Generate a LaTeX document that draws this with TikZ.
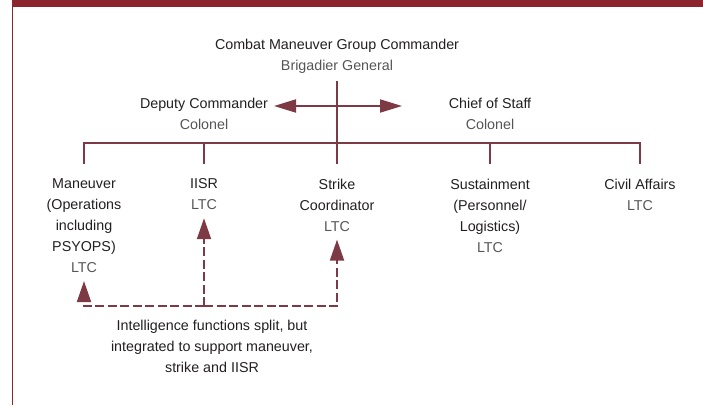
\documentclass[tikz,border=0pt]{standalone}
\usepackage{fontspec}
\setmainfont{Liberation Sans}
\usetikzlibrary{arrows.meta}
\definecolor{barred}{RGB}{140,37,45}
\definecolor{linered}{RGB}{125,58,68}
\definecolor{txt}{RGB}{35,31,32}
\definecolor{rankgray}{RGB}{85,85,85}
\newcommand\rnk[1]{{\color{rankgray}#1}}
\tikzset{
    org/.style={draw=linered,line width=2pt},
    drop/.style={org,shorten >=6.7pt},
    intel/.style={org,dash pattern=on 9pt off 3.5pt,-{Triangle[length=21pt,width=14pt]}},
    post/.style={font=\fontsize{14.3}{21}\selectfont,text=txt,align=center,anchor=north,inner xsep=2pt,inner ysep=8pt}
}
\begin{document}
\begin{tikzpicture}[x=1pt,y=-1pt]
            \useasboundingbox (0,0) rectangle (703,405);
            \fill[barred] (12,0) rectangle (703,7.3);
            \draw[barred,line width=1.3pt] (12.3,0) -- (12.3,405);
            \node[post] (cmd) at (337,30.7) {Combat Maneuver Group Commander\\\rnk{Brigadier General}};
            \node[post] (dep) at (204,89.7) {Deputy Commander\\\rnk{Colonel}};
            \node[post] (cos) at (490,89.7) {Chief of Staff\\\rnk{Colonel}};
            \node[post] (man) at (84,170.7) {Maneuver\\(Operations\\including\\PSYOPS)\\\rnk{LTC}};
            \node[post] (iisr) at (204,170.7) {IISR\\\rnk{LTC}};
            \node[post] (strike) at (337,170.7) {Strike\\Coordinator\\\rnk{LTC}};
            \node[post] (sust) at (490,170.7) {Sustainment\\(Personnel/\\Logistics)\\\rnk{LTC}};
            \node[post] (civ) at (640,170.7) {Civil Affairs\\\rnk{LTC}};
            \node[post] (note) at (212,311.7) {Intelligence functions split, but\\integrated to support maneuver,\\strike and IISR};
            \coordinate (bus) at (337,143);
            \coordinate (arrL) at (274,106);
            \coordinate (arrR) at (402,106);
            \coordinate (split) at (204,306);
            \draw[drop] (cmd.south) -- (strike.north);
            \draw[drop,shorten <=6.7pt] (man.north) -- (man.north |- bus) -- (civ.north |- bus) -- (civ.north);
            \foreach \n in {iisr,sust}
                \draw[drop] (\n.north |- bus) -- (\n.north);
            \draw[org,{Triangle[length=22pt,width=13pt]}-{Triangle[length=22pt,width=13pt]}] (arrL) -- (arrR);
            \draw[intel] (split) -| (man.south);
            \draw[intel] (split) -| (strike.south);
            \draw[intel] (split) -- (iisr.south);
\end{tikzpicture}
\end{document}
